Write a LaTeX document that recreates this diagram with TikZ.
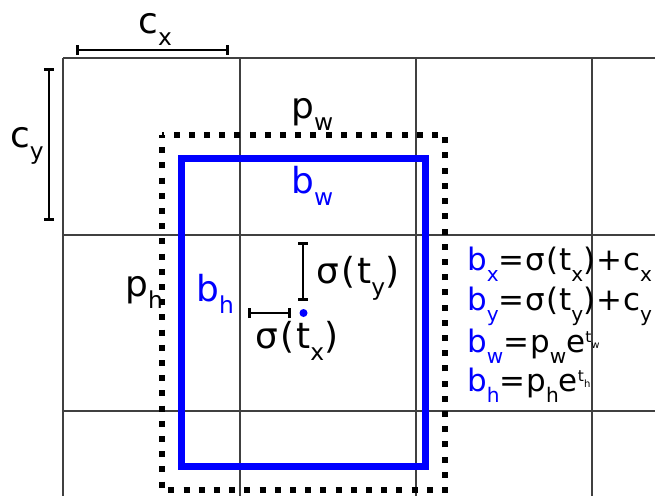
\documentclass[tikz,border=0pt]{standalone}
\usepackage{fontspec}
\setmainfont{DejaVu Sans}
\newfontfamily\lblfont[LetterSpace=6]{DejaVu Sans}
\newfontfamily\eqfont[LetterSpace=3]{DejaVu Sans}
\usepackage{graphicx}
\usetikzlibrary{arrows.meta,positioning}
\newcommand{\dn}[1]{\raisebox{-0.65ex}{\scalebox{0.65}{#1}}}
\newcommand{\hi}[1]{\raisebox{0.55ex}{\scalebox{0.5}{#1}}}
\tikzset{
  gridline/.style = {draw=black!75, line width=0.8pt},
  anchorbox/.style = {draw=black, line width=0.15cm, dash pattern=on 0.15cm off 0.23cm, dash phase=0.075cm},
  predbox/.style = {draw=blue, line width=0.175cm},
  dimbar/.style = {line width=1.8pt, arrows={Bar[width=0.25cm]-Bar[width=0.25cm]}},
  lbl/.style = {inner sep=0pt, anchor=base west, font=\lblfont\fontsize{25.5}{29}\selectfont},
  eq/.style = {inner sep=0pt, anchor=base west, font=\eqfont\fontsize{22}{25}\selectfont}
}

\begin{document}
\begin{tikzpicture}[x=0.025cm, y=-0.025cm]
  \useasboundingbox (0,0) rectangle (655,496);
  % grid cells
  \foreach \gx in {63,240,416,592} \draw[gridline] (\gx,58) -- (\gx,496);
  \foreach \gy in {58,235,411} \draw[gridline] (63,\gy) -- (655,\gy);
  % prior and predicted boxes
  \coordinate (pnw) at (161.5,135);
  \coordinate (pse) at (445,490);
  \coordinate (bnw) at (181.5,158.5);
  \coordinate (bse) at (425,466.5);
  \draw[anchorbox] (pnw) rectangle (pse);
  \draw[predbox] (bnw) rectangle (bse);
  \fill[blue] (303.5,313) circle (4);
  % offsets
  \coordinate (cxa) at (76,50);
  \coordinate (cxb) at (229,50);
  \coordinate (cya) at (49,68);
  \coordinate (cyb) at (49,221);
  \coordinate (tya) at (303,242);
  \coordinate (tyb) at (303,301);
  \coordinate (txa) at (248,313);
  \coordinate (txb) at (291,313);
  \draw[dimbar] (cxa) -- (cxb);
  \draw[dimbar] (cya) -- (cyb);
  \draw[dimbar] (tya) -- (tyb);
  \draw[dimbar] (txa) -- (txb);
  % labels
  \node[lbl] (cx) at (138,33) {c\dn{x}};
  \node[lbl] (cy) at (10,147) {c\dn{y}};
  \node[lbl] (pw) at (291,118) {p\dn{w}};
  \node[lbl, text=blue] (bw) at (291,193) {b\dn{w}};
  \node[lbl] (ph) at (125,296) {p\dn{h}};
  \node[lbl, text=blue] (bh) at (196,301) {b\dn{h}};
  \node[lbl] (sty) at (316,283) {σ(t\dn{y})};
  \node[lbl] (stx) at (255,348) {σ(t\dn{x})};
  % equations
  \node[eq] (eqx) at (467,270) {\textcolor{blue}{b\dn{x}}=σ(t\dn{x})+c\dn{x}};
  \node[eq] (eqy) at (467,310) {\textcolor{blue}{b\dn{y}}=σ(t\dn{y})+c\dn{y}};
  \node[eq] (eqw) at (467,352) {\textcolor{blue}{b\dn{w}}=p\dn{w}e\hi{t\dn{w}}};
  \node[eq] (eqh) at (467,391) {\textcolor{blue}{b\dn{h}}=p\dn{h}e\hi{t\dn{h}}};
\end{tikzpicture}
\end{document}
